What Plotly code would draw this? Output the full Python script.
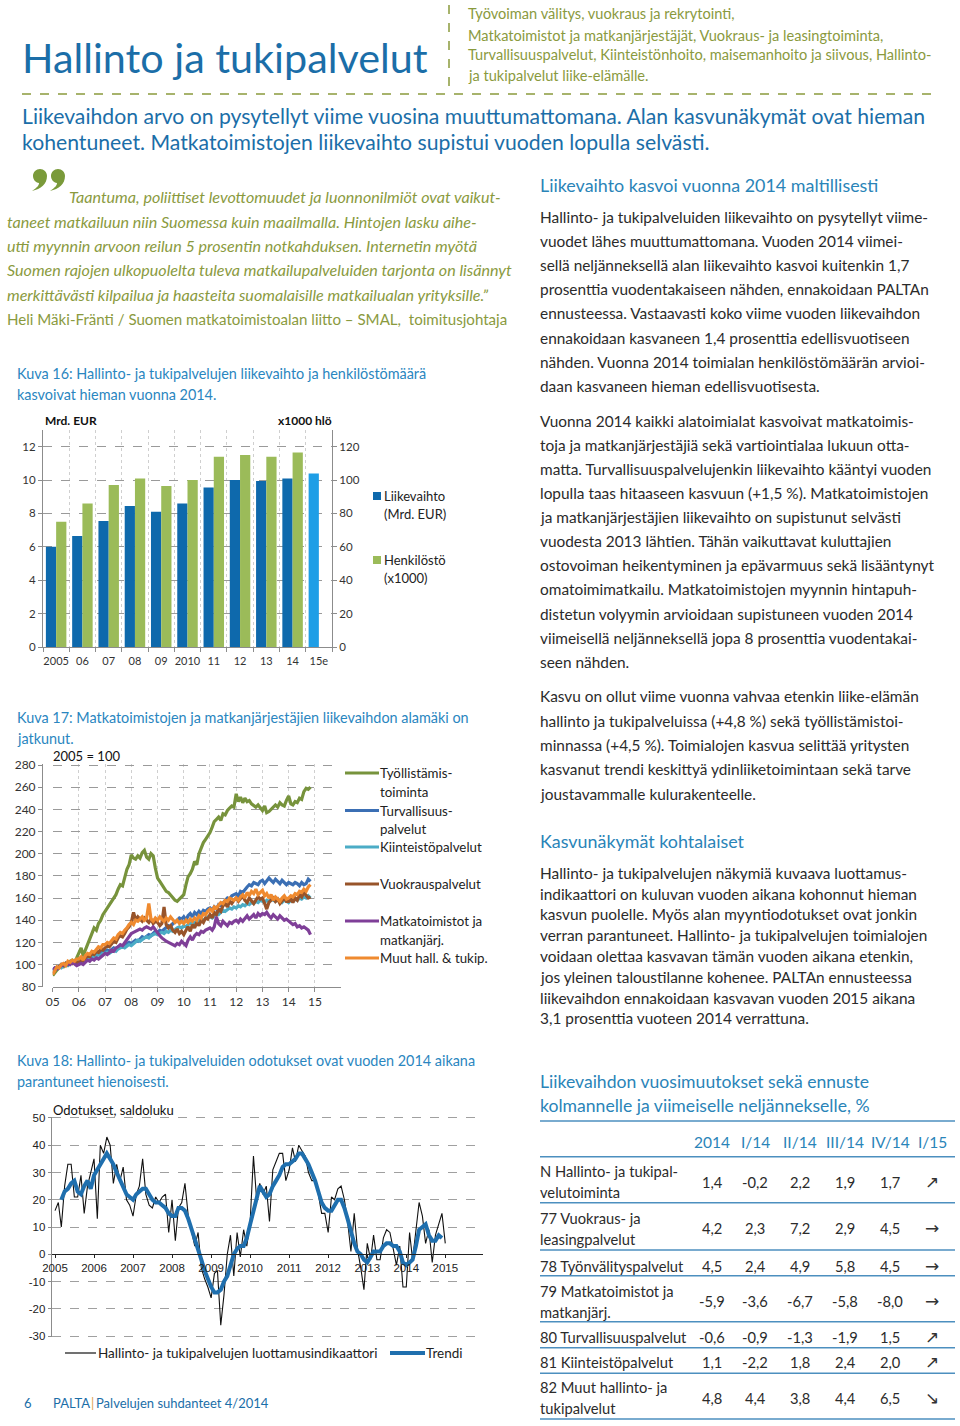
import plotly.graph_objects as go
import pandas as pd

W, H = 960, 1426
FONT = "Lato"
BODY = "#2b2b2b"
BLUE_TITLE = "#1b6ea8"
BLUE_HEAD = "#2a84b8"
CAPTION = "#2a86c0"
GREEN_TXT = "#8a9a3e"

# ---------------- Data: chart 16 ----------------
years16 = ["2005", "06", "07", "08", "09", "2010", "11", "12", "13", "14", "15e"]
liikevaihto = [6.0, 6.65, 7.55, 8.45, 8.1, 8.6, 9.55, 10.0, 9.95, 10.1, 10.4]
henkilosto = [75, 86, 97, 101, 96.5, 100, 114, 115, 114, 116.5, None]

# ---------------- Data: chart 17 (monthly, 2005-01 .. 2014-11) ----------------
tyollistamis = [
    90, 93, 95, 97, 99, 98, 101, 100, 103, 104, 102, 106,
    110, 115, 108, 113, 118, 124, 128, 133, 131, 137, 140, 145,
    148, 151, 155, 158, 160, 163, 168, 172, 171, 178, 186, 190,
    199, 196, 195, 198, 196, 201, 203, 197, 195, 200, 198, 187,
    178, 175, 172, 170, 166, 165, 163, 160, 158, 157, 159, 161,
    163, 172, 179, 182, 186, 193, 190, 200, 205, 210, 213, 216,
    219, 224, 229, 231, 233, 230, 236, 235, 239, 241, 243, 242,
    254, 247, 251, 246, 250, 247, 248, 245, 243, 242, 244, 241,
    239, 243, 237, 238, 240, 242, 244, 242, 246, 244, 243, 248,
    252, 245, 244, 247, 246, 250, 249, 256, 259, 258, 260]
turvallisuus = [
    95, 97, 96, 98, 100, 99, 101, 100, 102, 103, 102, 104,
    104, 105, 106, 105, 107, 108, 107, 109, 110, 109, 111, 112,
    112, 113, 112, 114, 115, 114, 116, 117, 116, 118, 119, 120,
    119, 121, 122, 121, 123, 125, 124, 126, 127, 126, 128, 130,
    129, 131, 130, 132, 133, 135, 134, 137, 138, 140, 142, 141,
    143, 140, 144, 146, 143, 147, 145, 148, 146, 149, 148, 150,
    151, 149, 152, 150, 154, 153, 156, 158, 160, 159, 162, 163,
    164, 162, 166, 165, 168, 170, 172, 171, 174, 173, 172, 175,
    176, 173, 175, 178, 176, 174, 177, 175, 173, 176, 174, 172,
    174, 173, 172, 174, 173, 171, 174, 172, 173, 177, 175]
kiinteisto = [
    94, 96, 97, 98, 97, 99, 100, 99, 101, 102, 101, 103,
    103, 102, 104, 105, 104, 106, 107, 106, 108, 109, 108, 110,
    110, 111, 110, 112, 113, 112, 114, 115, 116, 115, 117, 118,
    117, 119, 120, 122, 121, 123, 124, 125, 124, 126, 127, 128,
    127, 128, 129, 128, 130, 129, 131, 130, 132, 133, 134, 133,
    135, 134, 136, 137, 138, 137, 139, 140, 141, 140, 142, 143,
    143, 142, 144, 146, 145, 147, 149, 148, 150, 151, 150, 152,
    151, 153, 152, 154, 153, 155, 154, 156, 155, 157, 156, 158,
    157, 156, 158, 157, 159, 158, 157, 159, 158, 156, 158, 157,
    156, 158, 157, 159, 158, 160, 159, 161, 160, 162, 160]
vuokraus = [
    92, 95, 97, 98, 100, 99, 101, 100, 102, 101, 103, 102,
    102, 104, 103, 106, 108, 107, 110, 109, 112, 111, 114, 113,
    115, 117, 116, 119, 121, 120, 124, 126, 125, 128, 132, 134,
    138, 147, 140, 143, 141, 139, 142, 140, 138, 141, 137, 139,
    138, 135, 137, 152, 136, 133, 135, 131, 129, 132, 128, 130,
    127, 131, 134, 130, 136, 133, 138, 135, 140, 138, 142, 141,
    145, 142, 147, 145, 150, 148, 153, 155, 152, 157, 155, 158,
    160, 157, 159, 162, 158, 156, 160, 157, 155, 158, 161, 159,
    160, 155, 150, 156, 158, 160, 157, 159, 155, 158, 160, 157,
    157, 159, 156, 160, 158, 163, 161, 165, 162, 160, 161]
matkatoimistot = [
    95, 97, 96, 98, 99, 100, 99, 101, 100, 102, 100, 99,
    100, 101, 100, 102, 104, 103, 105, 104, 106, 105, 107, 108,
    110, 109, 111, 113, 112, 115, 116, 118, 117, 120, 122, 125,
    128, 129, 130, 131, 132, 131, 133, 134, 133, 132, 134, 131,
    128, 126, 124, 122, 121, 120, 119, 118, 117, 119, 118, 121,
    119, 117, 122, 125, 122, 126, 128, 127, 130, 129, 131, 132,
    133, 131, 134, 143, 137, 135, 139, 137, 135, 138, 137, 139,
    140, 138, 141, 139, 142, 144, 141, 143, 145, 142, 146, 144,
    146, 145, 147, 144, 142, 145, 143, 141, 144, 142, 140, 141,
    139, 138, 136, 137, 134, 135, 133, 134, 132, 131, 127]
muut = [
    91, 95, 98, 97, 100, 101, 99, 103, 102, 104, 103, 105,
    105, 107, 104, 108, 110, 109, 112, 111, 114, 116, 115, 118,
    118, 120, 119, 122, 124, 123, 127, 129, 128, 131, 133, 136,
    138, 136, 140, 139, 141, 143, 140, 142, 155, 141, 139, 142,
    140, 143, 141, 139, 142, 140, 143, 141, 138, 140, 137, 139,
    137, 140, 138, 141, 139, 142, 140, 144, 142, 146, 145, 148,
    150, 148, 152, 151, 154, 156, 155, 158, 157, 160, 159, 158,
    160, 158, 161, 163, 160, 165, 162, 166, 164, 168, 163, 165,
    167, 162, 164, 160, 163, 158, 161, 159, 157, 160, 162, 159,
    160, 162, 161, 164, 163, 166, 165, 168, 166, 170, 172]
series17 = [
    ("Työllistämistoiminta", tyollistamis, "#77933c"),
    ("Turvallisuuspalvelut", turvallisuus, "#3b6fb4"),
    ("Kiinteistöpalvelut", kiinteisto, "#4bacc6"),
    ("Vuokrauspalvelut", vuokraus, "#98542a"),
    ("Matkatoimistot ja matkanjärj.", matkatoimistot, "#7f3f98"),
    ("Muut hall. & tukip.", muut, "#ef8a2f"),
]

# ---------------- Data: chart 18 (monthly, 2005-01 .. 2015-01) ----------------
luottamus = [
    16, 19, 10, 25, 33, 33, 21, 21, 29, 15, 25, 30,
    35, 13, 40, 37, 43, 40, 26, 33, 27, 32, 20, 18,
    14, 22, 25, 35, 22, 18, 17, 21, 19, 21, 22, 8,
    20, 5, 17, 19, 26, 14, 8, 3, 8, -5, -9, -12,
    -16, -7, -6, -26, -15, 0, 7, -8, 8, -1, 9, 3,
    12, 36, 21, 26, 22, 25, 12, 31, 34, 37, 37, 27,
    31, 39, 34, 40, 38, 36, 30, 27, 27, 22, 15, 15,
    8, 21, 20, 24, 25, 20, 12, 1, 15, 2, -5, -13,
    4, -2, 7, -2, -2, 6, 9, 8, 2, -4, 3, -12,
    -12, 8, -2, 10, 19, 14, 4, 9, -3, 7, 11, 15,
    4]
trendi = [
    None, None, 20, 23, 24, 26, 27, 23, 22, 25, 27, 24,
    29, 31, 33, 35, 37, 35, 33, 30, 27, 25, 22, 21,
    20, 22, 23, 24, 24, 22, 20, 19, 19, 18, 17, 15,
    14, 14, 17, 17, 16, 13, 9, 5, 2, -2, -6, -9,
    -12, -14, -14, -13, -10, -8, -4, 0, 2, 3, 3, 6,
    11, 16, 20, 25, 23, 21, 22, 25, 27, 29, 32, 33,
    33, 34, 35, 37, 37, 35, 33, 30, 27, 23, 19, 17,
    16, 16, 18, 20, 20, 17, 13, 8, 4, 1, 0, -2,
    -3, -1, 1, 1, 1, 3, 4, 4, 3, 3, 1, -3,
    -4, -3, -2, 3, 9, 10, 11, 7, 5, 5, 7, 6]
ticks18 = [-30, -20, -10, 0, 10, 20, 30, 40, 50]
ticklabels18 = ["-30", "-20", "-10", "0", "10", "20", "30", "40", "50"]

# ---------------- Data: table ----------------
table_cols = ["2014", "I/14", "II/14", "III/14", "IV/14", "I/15"]
table_rows = [
    ["N Hallinto- ja tukipal-", "velutoiminta"],
    ["77 Vuokraus- ja", "leasingpalvelut"],
    ["78 Työnvälityspalvelut"],
    ["79 Matkatoimistot ja", "matkanjärj."],
    ["80 Turvallisuuspalvelut"],
    ["81 Kiinteistöpalvelut"],
    ["82 Muut hallinto- ja", "tukipalvelut"],
]
table_vals = [
    ["1,4", "-0,2", "2,2", "1,9", "1,7", "↗"],
    ["4,2", "2,3", "7,2", "2,9", "4,5", "→"],
    ["4,5", "2,4", "4,9", "5,8", "4,5", "→"],
    ["-5,9", "-3,6", "-6,7", "-5,8", "-8,0", "→"],
    ["-0,6", "-0,9", "-1,3", "-1,9", "1,5", "↗"],
    ["1,1", "-2,2", "1,8", "2,4", "2,0", "↗"],
    ["4,8", "4,4", "3,8", "4,4", "6,5", "↘"],
]


def px(x):
    return x / W


def py(y):
    return 1 - y / H


ann = []
shapes = []


def T(x, y, s, size=14, color=BODY, anchor="left", family=FONT, italic=False, weight="normal"):
    ann.append(dict(x=px(x), y=py(y), xref="paper", yref="paper", text=s, showarrow=False,
                    xanchor=anchor, yanchor="middle", borderpad=0,
                    font=dict(size=size, color=color, family=family,
                              style="italic" if italic else "normal", weight=weight)))


def L(x0, y0, x1, y1, color, width=1, dash="solid"):
    shapes.append(dict(type="line", xref="paper", yref="paper", x0=px(x0), y0=py(y0),
                       x1=px(x1), y1=py(y1), line=dict(color=color, width=width, dash=dash)))


def comma_path(cx, cy, r=7.0):
    # decorative closing-quote comma (blob + tail), pixel coords -> paper
    k = 0.55 * r
    pts = [
        ("M", [(cx - r, cy)]),
        ("C", [(cx - r, cy - k), (cx - k, cy - r), (cx, cy - r)]),
        ("C", [(cx + k, cy - r), (cx + r, cy - k), (cx + r, cy)]),
        ("C", [(cx + r, cy + 8), (cx + 1, cy + 13), (cx - 8, cy + 15)]),
        ("C", [(cx - 3, cy + 11.5), (cx - 1, cy + 9.5), (cx - 1, cy + 7)]),
        ("C", [(cx - 4.5, cy + 6.5), (cx - r, cy + 3.5), (cx - r, cy)]),
    ]
    s = ""
    for cmd, ps in pts:
        s += cmd + " " + " ".join(f"{px(a):.5f},{py(b):.5f}" for a, b in ps) + " "
    return s + "Z"


fig = go.Figure()

# ---- chart 16 ----
fig.add_trace(go.Bar(x=years16, y=liikevaihto, name="Liikevaihto", xaxis="x", yaxis="y",
                     marker=dict(color=["#0e69ac"] * 10 + ["#1e9ee6"], line=dict(width=0)),
                     offsetgroup="1", showlegend=False))
fig.add_trace(go.Bar(x=years16, y=henkilosto, name="Henkilöstö", xaxis="x", yaxis="y2",
                     marker=dict(color="#9bbb59", line=dict(width=0)),
                     offsetgroup="2", showlegend=False))

# ---- chart 17 ----
months17 = pd.date_range("2005-01-01", periods=len(tyollistamis), freq="MS")
for name, vals, col in series17:
    fig.add_trace(go.Scatter(x=months17, y=vals, mode="lines", name=name, xaxis="x2", yaxis="y3",
                             line=dict(color=col, width=3.2), showlegend=False))

# ---- chart 18 ----
months18 = pd.date_range("2005-01-01", periods=len(luottamus), freq="MS")
fig.add_trace(go.Scatter(x=months18, y=luottamus, mode="lines", xaxis="x3", yaxis="y4",
                         line=dict(color="#111111", width=1.1), showlegend=False))
fig.add_trace(go.Scatter(x=months18[:len(trendi)], y=trendi, mode="lines", xaxis="x3", yaxis="y4",
                         line=dict(color="#1f6fae", width=4), showlegend=False))

tick_font = dict(family=FONT, size=11.5, color="#333")
arial = dict(family="Liberation Sans", size=11.5, color="#222")

zero18 = 1254.25
fig.update_layout(
    width=W, height=H, margin=dict(l=0, r=0, t=0, b=0, autoexpand=False),
    paper_bgcolor="white", plot_bgcolor="white",
    barmode="group", bargap=0.22, bargroupgap=0,
    xaxis=dict(domain=[px(43), px(332)], anchor="y", type="category", tickson="boundaries",
               automargin=False, tickangle=0, ticklabelstandoff=4,
               showgrid=True, gridcolor="#cfcfcf", griddash="dot", gridwidth=1,
               showline=True, linecolor="#8c8c8c", ticks="outside", ticklen=4, tickcolor="#8c8c8c",
               tickfont=dict(family=FONT, size=11, color="#333"), range=[-0.5, 10.5]),
    yaxis=dict(domain=[py(647), py(430)], range=[0, 13], tickvals=list(range(0, 13, 2)),
               automargin=False,
               showgrid=True, gridcolor="#9a9a9a", griddash="dash", gridwidth=1, zeroline=False,
               showline=True, linecolor="#8c8c8c", ticks="outside", ticklen=4, tickcolor="#8c8c8c",
               tickfont=tick_font),
    yaxis2=dict(overlaying="y", side="right", anchor="x", range=[0, 130], automargin=False,
                tickvals=list(range(0, 130, 20)), showgrid=False, zeroline=False,
                showline=True, linecolor="#8c8c8c", ticks="outside", ticklen=4, tickcolor="#8c8c8c",
                tickfont=tick_font),
    xaxis2=dict(domain=[px(52.7), px(341)], anchor="y3", type="date", automargin=False,
                range=["2005-01-01", "2015-12-31"], dtick="M12", tick0="2005-01-01", tickformat="%y",
                tickangle=0,
                showgrid=True, gridcolor="#cfcfcf", griddash="dot",
                showline=True, linecolor="#8c8c8c", ticks="outside", ticklen=4, tickcolor="#8c8c8c",
                tickfont=dict(family=FONT, size=12, color="#333")),
    yaxis3=dict(domain=[py(986.7), py(763.9)], range=[80, 281], dtick=20, tick0=80, automargin=False,
                showgrid=True, gridcolor="#9a9a9a", griddash="dash", zeroline=False,
                showline=True, linecolor="#8c8c8c", ticks="outside", ticklen=4, tickcolor="#8c8c8c",
                tickfont=dict(family=FONT, size=12, color="#333")),
    xaxis3=dict(domain=[px(51.7), px(483)], anchor="free", position=py(zero18), type="date",
                automargin=False, tickangle=0,
                range=["2004-12-01", "2015-12-20"], dtick="M12", tick0="2005-01-01", tickformat="%Y",
                showgrid=False, showline=True, linecolor="#222", linewidth=1,
                ticks="outside", ticklen=3, tickcolor="#222", tickfont=arial),
    yaxis4=dict(domain=[py(1337.4), py(1116.6)], anchor="x3", range=[-30.5, 50.5],
                tickvals=ticks18, ticktext=ticklabels18, automargin=False,
                showgrid=True, gridcolor="#a0a0a0", griddash="dash", zeroline=False,
                showline=True, linecolor="#8c8c8c", ticks="outside", ticklen=3, tickcolor="#8c8c8c",
                tickfont=arial),
)

# ---------------- Header ----------------
T(21, 57, "Hallinto ja tukipalvelut", size=41.3, color=BLUE_TITLE)
L(449, 5, 449, 86, "#8a9a3c", 1.5, "dash")
for yy, s in zip([14, 35, 55, 76], [
        "Työvoiman välitys, vuokraus ja rekrytointi,",
        "Matkatoimistot ja matkanjärjestäjät, Vuokraus- ja leasingtoiminta,",
        "Turvallisuuspalvelut, Kiinteistönhoito, maisemanhoito ja siivous, Hallinto-",
        "ja tukipalvelut liike-elämälle."]):
    T(467, yy, s, size=14.6, color=GREEN_TXT)
L(22, 94, 936, 94, "#8a9a3c", 1.6, "dash")
T(21, 116, "Liikevaihdon arvo on pysytellyt viime vuosina muuttumattomana. Alan kasvunäkymät ovat hieman",
  size=21.2, color=BLUE_TITLE)
T(21, 142, "kohentuneet. Matkatoimistojen liikevaihto supistui vuoden lopulla selvästi.",
  size=21.2, color=BLUE_TITLE)

# ---------------- Quote ----------------
for cx in (40, 58):
    shapes.append(dict(type="path", xref="paper", yref="paper", path=comma_path(cx, 176),
                       fillcolor="#7a9a3a", line=dict(width=0)))
quote = [
    (68, 197, "Taantuma, poliittiset levottomuudet ja luonnonilmiöt ovat vaikut-"),
    (6, 221, "taneet matkailuun niin Suomessa kuin maailmalla. Hintojen lasku aihe-"),
    (6, 245.5, "utti myynnin arvoon reilun 5 prosentin notkahduksen. Internetin myötä"),
    (6, 270, "Suomen rajojen ulkopuolelta tuleva matkailupalveluiden tarjonta on lisännyt"),
    (6, 294.5, "merkittävästi kilpailua ja haasteita suomalaisille matkailualan yrityksille.”"),
]
for xx, yy, s in quote:
    T(xx, yy, s, size=16.1, color=GREEN_TXT, italic=True)
T(6, 319, "Heli Mäki-Fränti / Suomen matkatoimistoalan liitto – SMAL,  toimitusjohtaja",
  size=15.1, color=GREEN_TXT)

# ---------------- Captions ----------------
CS = 14.4
T(16, 373.5, "Kuva 16: Hallinto- ja tukipalvelujen liikevaihto ja henkilöstömäärä", size=CS, color=CAPTION)
T(16, 394.5, "kasvoivat hieman vuonna 2014.", size=CS, color=CAPTION)
T(16, 717, "Kuva 17: Matkatoimistojen ja matkanjärjestäjien liikevaihdon alamäki on", size=CS, color=CAPTION)
T(16, 738, "jatkunut.", size=CS, color=CAPTION)
T(16, 1060, "Kuva 18: Hallinto- ja tukipalveluiden odotukset ovat vuoden 2014 aikana", size=CS, color=CAPTION)
T(16, 1081, "parantuneet hienoisesti.", size=CS, color=CAPTION)

# ---------------- Chart 16 extras ----------------
T(44, 421, "Mrd. EUR", size=12, color="#111", weight="bold")
T(333, 421, "x1000 hlö", size=12, color="#111", anchor="right", weight="bold")
shapes.append(dict(type="rect", xref="paper", yref="paper", x0=px(373), x1=px(381), y0=py(500), y1=py(492),
                   fillcolor="#0e69ac", line=dict(width=0)))
shapes.append(dict(type="rect", xref="paper", yref="paper", x0=px(373), x1=px(381), y0=py(564), y1=py(556),
                   fillcolor="#9bbb59", line=dict(width=0)))
T(383, 496, "Liikevaihto", size=13, color="#222")
T(383, 514, "(Mrd. EUR)", size=13, color="#222")
T(383, 560, "Henkilöstö", size=13, color="#222")
T(383, 578, "(x1000)", size=13, color="#222")

# ---------------- Chart 17 extras ----------------
T(52, 756, "2005 = 100", size=13, color="#111")
leg17 = [
    (773, "#77933c", ["Työllistämis-", "toiminta"]),
    (810.5, "#3b6fb4", ["Turvallisuus-", "palvelut"]),
    (847, "#4bacc6", ["Kiinteistöpalvelut"]),
    (884, "#98542a", ["Vuokrauspalvelut"]),
    (921, "#7f3f98", ["Matkatoimistot ja", "matkanjärj."]),
    (958, "#ef8a2f", ["Muut hall. & tukip."]),
]
for yy, col, lines in leg17:
    L(345, yy, 379, yy, col, 3.2)
    for i, s in enumerate(lines):
        T(379, yy + i * 18.5, s, size=13.3, color="#222")

# ---------------- Chart 18 extras ----------------
T(52, 1110, "Odotukset, saldoluku", size=13, color="#111")
L(65, 1353, 96, 1353, "#111", 1.2)
T(97, 1353, "Hallinto- ja tukipalvelujen luottamusindikaattori", size=13.5, color="#222")
L(390, 1353, 425, 1353, "#1f6fae", 4)
T(425, 1353, "Trendi", size=13.5, color="#222")

# ---------------- Right column text ----------------
BS = 15.4
HS = 17.9
T(539, 185, "Liikevaihto kasvoi vuonna 2014 maltillisesti", size=HS, color=BLUE_HEAD)
p1 = ["Hallinto- ja tukipalveluiden liikevaihto on pysytellyt viime-",
      "vuodet lähes muuttumattomana. Vuoden 2014 viimei-",
      "sellä neljänneksellä alan liikevaihto kasvoi kuitenkin 1,7",
      "prosenttia vuodentakaiseen nähden, ennakoidaan PALTAn",
      "ennusteessa. Vastaavasti koko viime vuoden liikevaihdon",
      "ennakoidaan kasvaneen 1,4 prosenttia edellisvuotiseen",
      "nähden. Vuonna 2014 toimialan henkilöstömäärän arvioi-",
      "daan kasvaneen hieman edellisvuotisesta."]
for i, s in enumerate(p1):
    T(539, 216.7 + i * 24.2, s, size=BS)
p2 = ["Vuonna 2014 kaikki alatoimialat kasvoivat matkatoimis-",
      "toja ja matkanjärjestäjiä sekä vartiointialaa lukuun otta-",
      "matta. Turvallisuuspalvelujenkin liikevaihto kääntyi vuoden",
      "lopulla taas hitaaseen kasvuun (+1,5 %). Matkatoimistojen",
      "ja matkanjärjestäjien liikevaihto on supistunut selvästi",
      "vuodesta 2013 lähtien. Tähän vaikuttavat kuluttajien",
      "ostovoiman heikentyminen ja epävarmuus sekä lisääntynyt",
      "omatoimimatkailu. Matkatoimistojen myynnin hintapuh-",
      "distetun volyymin arvioidaan supistuneen vuoden 2014",
      "viimeisellä neljänneksellä jopa 8 prosenttia vuodentakai-",
      "seen nähden."]
for i, s in enumerate(p2):
    T(539, 420.7 + i * 24.1, s, size=BS)
p3 = ["Kasvu on ollut viime vuonna vahvaa etenkin liike-elämän",
      "hallinto ja tukipalveluissa (+4,8 %) sekä työllistämistoi-",
      "minnassa (+4,5 %). Toimialojen kasvua selittää yritysten",
      "kasvanut trendi keskittyä ydinliiketoimintaan sekä tarve",
      "joustavammalle kulurakenteelle."]
for i, s in enumerate(p3):
    T(539, 696 + i * 24.5, s, size=BS)
T(539, 841, "Kasvunäkymät kohtalaiset", size=HS, color=BLUE_HEAD)
p4 = ["Hallinto- ja tukipalvelujen näkymiä kuvaava luottamus-",
      "indikaattori on kuluvan vuoden aikana kohonnut hieman",
      "kasvun puolelle. Myös alan myyntiodotukset ovat jonkin",
      "verran parantuneet. Hallinto- ja tukipalvelujen toimialojen",
      "voidaan olettaa kasvavan tämän vuoden aikana etenkin,",
      "jos yleinen taloustilanne kohenee. PALTAn ennusteessa",
      "liikevaihdon ennakoidaan kasvavan vuoden 2015 aikana",
      "3,1 prosenttia vuoteen 2014 verrattuna."]
for i, s in enumerate(p4):
    T(539, 872.7 + i * 20.8, s, size=BS)

# ---------------- Table ----------------
T(539, 1081.5, "Liikevaihdon vuosimuutokset sekä ennuste", size=17.6, color=BLUE_HEAD)
T(539, 1105.5, "kolmannelle ja viimeiselle neljännekselle, %", size=17.6, color=BLUE_HEAD)
TL = "#4d8fbf"
for yy in [1121, 1156.7, 1202.7, 1250, 1275.7, 1321.7, 1347.7, 1373.3, 1419]:
    L(540, yy, 955, yy, TL, 1.5)
col_x = [712, 755, 800, 845, 890, 932]
for cx, c in zip(col_x, table_cols):
    T(cx, 1141.7, c, size=15.5, color=BLUE_HEAD, anchor="center")
row_y = [1181.7, 1228, 1265.7, 1301, 1336.7, 1362.3, 1397.7]
for ry, labels, vals in zip(row_y, table_rows, table_vals):
    if len(labels) == 2:
        T(539, ry - 10.3, labels[0], size=14.7)
        T(539, ry + 10.7, labels[1], size=14.7)
    else:
        T(539, ry, labels[0], size=14.7)
    for cx, v in zip(col_x, vals):
        if v in "↗→↘":
            T(cx, ry, v, size=17, anchor="center", family="DejaVu Sans", color="#333")
        else:
            T(cx, ry, v, size=14.7, anchor="center")

# ---------------- Footer ----------------
T(23, 1403, "6", size=13, color=BLUE_TITLE)
T(52, 1403, "PALTA", size=13, color=BLUE_TITLE)
T(89.5, 1403, "|", size=13, color="#e0a050")
T(95, 1403, "Palvelujen suhdanteet 4/2014", size=13, color=BLUE_TITLE)

fig.update_layout(annotations=ann, shapes=shapes)
fig.write_html("out.html", config={"displayModeBar": False},
               post_script="document.body.style.margin='0';document.body.style.overflow='hidden';")
